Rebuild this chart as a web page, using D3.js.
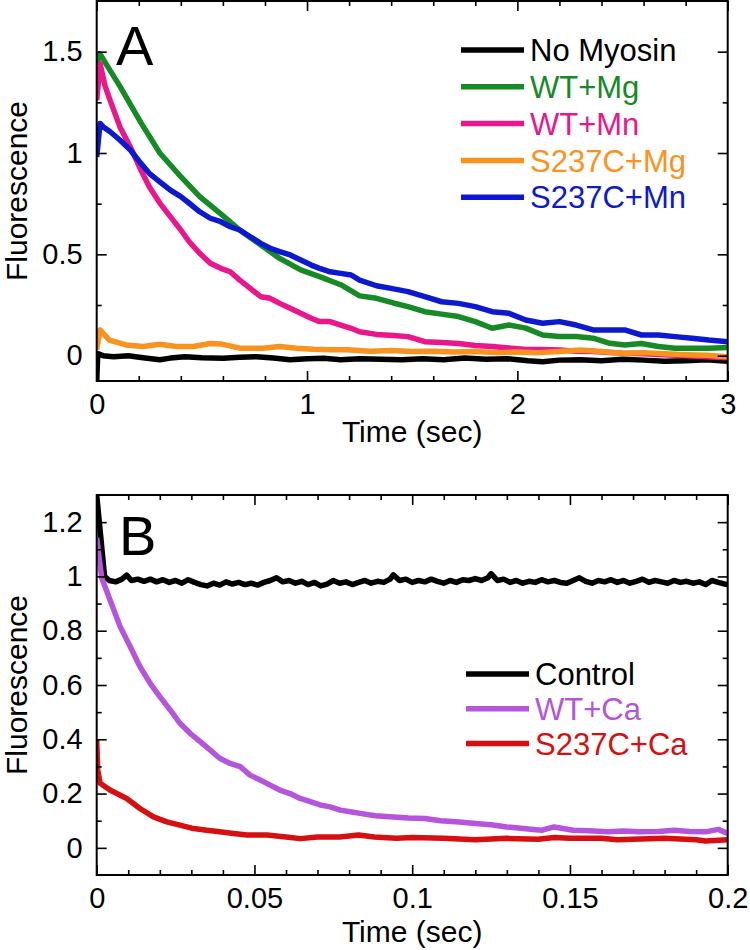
<!DOCTYPE html>
<html><head><meta charset="utf-8">
<script src="https://cdn.jsdelivr.net/npm/d3@7"></script>
<style>body{margin:0;background:#fff}svg{display:block}text{font-family:"Liberation Sans",Arial,sans-serif}</style>
</head><body>
<svg id="chart" width="750" height="950"></svg>
<script>
// ---------- Panel A data ----------
const xTicksA = [0, 1, 2, 3];
const yTicksA = [0, 0.5, 1, 1.5];
const legendA = ["No Myosin", "WT+Mg", "WT+Mn", "S237C+Mg", "S237C+Mn"];
const colorsA = ["#000000", "#168a25", "#ea168b", "#f7931e", "#0c19cf"];
const noMyosin = [[0,-0.125],[0.005,0.01],[0.03,0.0],[0.08,-0.005],[0.15,0.0],[0.22,-0.01],[0.3,-0.02],[0.35,-0.012],[0.42,-0.005],[0.5,-0.01],[0.6,-0.013],[0.68,-0.008],[0.76,-0.005],[0.84,-0.012],[0.92,-0.02],[1.0,-0.015],[1.08,-0.013],[1.16,-0.02],[1.25,-0.015],[1.35,-0.018],[1.45,-0.02],[1.55,-0.015],[1.65,-0.02],[1.75,-0.012],[1.85,-0.018],[1.95,-0.015],[2.05,-0.025],[2.12,-0.03],[2.2,-0.022],[2.3,-0.02],[2.4,-0.025],[2.5,-0.018],[2.6,-0.022],[2.7,-0.028],[2.8,-0.025],[2.9,-0.02],[3.0,-0.028]];
const wtMg = [[0,1.44],[0.015,1.49],[0.05,1.43],[0.11,1.33],[0.16,1.24],[0.21,1.15],[0.3,1.0],[0.4,0.883],[0.49,0.785],[0.59,0.70],[0.68,0.62],[0.78,0.546],[0.87,0.48],[0.97,0.423],[1.06,0.39],[1.16,0.35],[1.25,0.295],[1.33,0.283],[1.41,0.26],[1.48,0.242],[1.56,0.217],[1.64,0.205],[1.72,0.193],[1.80,0.168],[1.88,0.135],[1.96,0.151],[2.04,0.136],[2.12,0.102],[2.20,0.095],[2.28,0.095],[2.36,0.086],[2.44,0.061],[2.51,0.053],[2.59,0.06],[2.67,0.045],[2.75,0.037],[2.83,0.037],[2.91,0.037],[3.0,0.04]];
const wtMn = [[0,1.26],[0.016,1.44],[0.04,1.33],[0.064,1.26],[0.11,1.13],[0.16,1.03],[0.21,0.916],[0.25,0.834],[0.30,0.753],[0.35,0.686],[0.40,0.62],[0.44,0.562],[0.49,0.505],[0.54,0.456],[0.59,0.431],[0.635,0.414],[0.68,0.373],[0.73,0.332],[0.78,0.291],[0.825,0.283],[0.87,0.258],[0.92,0.234],[0.97,0.209],[1.02,0.185],[1.06,0.168],[1.11,0.168],[1.16,0.151],[1.21,0.135],[1.25,0.118],[1.33,0.105],[1.41,0.1],[1.48,0.094],[1.56,0.069],[1.64,0.065],[1.72,0.06],[1.80,0.05],[1.88,0.045],[1.96,0.038],[2.04,0.031],[2.12,0.03],[2.2,0.028],[2.28,0.022],[2.36,0.02],[2.5,0.012],[2.6,0.01],[2.7,0.005],[2.8,0.0],[2.9,-0.005],[3.0,-0.01]];
const s237cMg = [[0,0.03],[0.016,0.127],[0.06,0.077],[0.14,0.053],[0.22,0.045],[0.30,0.056],[0.38,0.045],[0.46,0.045],[0.54,0.06],[0.59,0.058],[0.68,0.037],[0.79,0.037],[0.87,0.045],[0.95,0.037],[1.03,0.032],[1.11,0.029],[1.19,0.029],[1.3,0.022],[1.4,0.025],[1.5,0.02],[1.6,0.022],[1.7,0.018],[1.8,0.02],[1.9,0.015],[2.0,0.018],[2.1,0.015],[2.2,0.02],[2.3,0.028],[2.4,0.02],[2.5,0.012],[2.6,0.015],[2.7,0.01],[2.8,0.005],[2.9,0.002],[3.0,-0.005]];
const s237cMn = [[0,0.98],[0.016,1.146],[0.03,1.13],[0.064,1.105],[0.11,1.064],[0.16,1.015],[0.21,0.949],[0.25,0.90],[0.30,0.858],[0.35,0.817],[0.40,0.785],[0.44,0.752],[0.49,0.71],[0.54,0.678],[0.59,0.661],[0.635,0.636],[0.68,0.62],[0.73,0.587],[0.78,0.554],[0.825,0.53],[0.87,0.513],[0.92,0.497],[0.97,0.472],[1.02,0.447],[1.06,0.431],[1.11,0.414],[1.16,0.406],[1.21,0.398],[1.25,0.373],[1.33,0.345],[1.40,0.332],[1.48,0.316],[1.56,0.291],[1.64,0.266],[1.72,0.258],[1.80,0.242],[1.88,0.217],[1.96,0.209],[2.04,0.176],[2.12,0.16],[2.2,0.168],[2.28,0.151],[2.36,0.127],[2.44,0.127],[2.51,0.127],[2.59,0.102],[2.67,0.102],[2.75,0.094],[2.83,0.086],[2.91,0.077],[3.0,0.069]];

// ---------- Panel B data ----------
const xTicksB = [0, 0.05, 0.1, 0.15, 0.2];
const yTicksB = [0, 0.2, 0.4, 0.6, 0.8, 1, 1.2];
const legendB = ["Control", "WT+Ca", "S237C+Ca"];
const colorsB = ["#000000", "#b455dc", "#d60f10"];
const control = [[0,1.3],[0.0025,1.0],[0.004,0.985],[0.006,0.98],[0.008,0.99],[0.0095,1.005],[0.011,0.985],[0.013,0.99],[0.015,0.982],[0.017,0.99],[0.019,0.98],[0.021,0.988],[0.023,0.978],[0.025,0.985],[0.027,0.975],[0.029,0.988],[0.031,0.978],[0.033,0.97],[0.035,0.965],[0.037,0.975],[0.039,0.968],[0.041,0.98],[0.043,0.972],[0.045,0.978],[0.047,0.97],[0.049,0.975],[0.051,0.968],[0.053,0.978],[0.055,0.985],[0.057,0.995],[0.059,0.98],[0.061,0.985],[0.063,0.975],[0.065,0.982],[0.067,0.97],[0.069,0.978],[0.071,0.965],[0.073,0.972],[0.075,0.985],[0.077,0.975],[0.079,0.98],[0.081,0.97],[0.083,0.978],[0.085,0.985],[0.087,0.975],[0.089,0.982],[0.091,0.978],[0.093,0.99],[0.094,1.006],[0.096,0.985],[0.098,0.99],[0.100,0.978],[0.102,0.985],[0.104,0.98],[0.106,0.99],[0.108,0.982],[0.110,0.975],[0.112,0.985],[0.114,0.978],[0.116,0.988],[0.118,0.985],[0.120,0.992],[0.122,0.985],[0.124,0.995],[0.125,1.01],[0.127,0.985],[0.129,0.99],[0.131,0.978],[0.133,0.985],[0.135,0.975],[0.137,0.982],[0.139,0.978],[0.141,0.988],[0.143,0.98],[0.145,0.985],[0.147,0.978],[0.149,0.975],[0.151,0.985],[0.153,0.995],[0.155,0.982],[0.157,0.975],[0.159,0.985],[0.161,0.98],[0.163,0.988],[0.165,0.978],[0.167,0.985],[0.169,0.975],[0.171,0.982],[0.173,0.99],[0.175,0.978],[0.177,0.985],[0.179,0.98],[0.181,0.975],[0.183,0.985],[0.185,0.978],[0.187,0.982],[0.189,0.975],[0.191,0.98],[0.193,0.97],[0.195,0.985],[0.197,0.978],[0.199,0.972],[0.2,0.97]];
const wtCa = [[0,1.142],[0.0016,0.994],[0.0042,0.914],[0.0074,0.816],[0.0106,0.742],[0.0137,0.668],[0.0169,0.607],[0.020,0.557],[0.0233,0.508],[0.0264,0.459],[0.0296,0.422],[0.0328,0.391],[0.036,0.36],[0.039,0.33],[0.0423,0.311],[0.0455,0.299],[0.0486,0.268],[0.0518,0.25],[0.055,0.231],[0.058,0.213],[0.0613,0.2],[0.0645,0.182],[0.0677,0.17],[0.0708,0.158],[0.074,0.151],[0.0772,0.139],[0.0804,0.133],[0.0835,0.127],[0.0883,0.118],[0.0988,0.11],[0.104,0.108],[0.109,0.1],[0.115,0.095],[0.12,0.09],[0.125,0.085],[0.13,0.077],[0.136,0.07],[0.141,0.065],[0.145,0.077],[0.151,0.065],[0.156,0.063],[0.162,0.059],[0.167,0.062],[0.172,0.059],[0.178,0.06],[0.183,0.065],[0.188,0.06],[0.193,0.059],[0.197,0.068],[0.2,0.053]];
const s237cCa = [[0,0.398],[0.0003,0.287],[0.0011,0.238],[0.0042,0.213],[0.0095,0.182],[0.0137,0.145],[0.018,0.114],[0.0222,0.096],[0.0264,0.084],[0.0307,0.071],[0.0349,0.065],[0.039,0.059],[0.0434,0.053],[0.0476,0.047],[0.054,0.047],[0.06,0.04],[0.0645,0.034],[0.07,0.04],[0.077,0.04],[0.083,0.047],[0.088,0.04],[0.095,0.035],[0.1,0.038],[0.11,0.035],[0.12,0.03],[0.13,0.035],[0.14,0.032],[0.145,0.038],[0.15,0.035],[0.16,0.035],[0.165,0.03],[0.17,0.032],[0.18,0.035],[0.19,0.03],[0.193,0.025],[0.2,0.03]];

const svg = d3.select("#chart");
const fmt = v => String(+v.toFixed(3));

function panel(o) {
  const x = d3.scaleLinear().domain(o.xDomain).range([o.left, o.right]);
  const y = d3.scaleLinear().domain(o.yDomain).range([o.bottom, o.top]);
  const g = svg.append("g");
  const clipId = "clip" + o.id;
  g.append("clipPath").attr("id", clipId).append("rect")
    .attr("x", o.left).attr("y", o.top).attr("width", o.right - o.left).attr("height", o.bottom - o.top);

  const line = d3.line().x(d => x(d[0])).y(d => y(d[1]));
  const lines = g.append("g").attr("clip-path", `url(#${clipId})`);
  o.series.forEach((s, i) => {
    lines.append("path").datum(s).attr("d", line)
      .attr("fill", "none").attr("stroke", o.colors[i]).attr("stroke-width", 5.5)
      .attr("stroke-linejoin", "round");
  });

  const styleAxis = (sel, labels) => {
    sel.select(".domain").remove();
    sel.selectAll(".tick line").attr("stroke", "#000").attr("stroke-width", 1.6);
    sel.selectAll(".tick text").attr("fill", "#000")
      .style("font-size", "29px").style("font-family", '"Liberation Sans",Arial,sans-serif');
    if (!labels) sel.selectAll(".tick text").remove();
  };
  const majX = o.xTicks, majY = o.yTicks;
  const minX = o.xMinor.filter(v => !majX.some(m => Math.abs(m - v) < 1e-9));
  const minY = o.yMinor.filter(v => !majY.some(m => Math.abs(m - v) < 1e-9));

  // bottom
  g.append("g").attr("transform", `translate(0,${o.bottom})`)
    .call(d3.axisBottom(x).tickValues(majX).tickSize(-10).tickPadding(12).tickFormat(fmt))
    .call(s => styleAxis(s, true));
  g.append("g").attr("transform", `translate(0,${o.bottom})`)
    .call(d3.axisBottom(x).tickValues(minX).tickSize(-5)).call(s => styleAxis(s, false));
  // top
  g.append("g").attr("transform", `translate(0,${o.top})`)
    .call(d3.axisTop(x).tickValues(majX).tickSize(-10)).call(s => styleAxis(s, false));
  g.append("g").attr("transform", `translate(0,${o.top})`)
    .call(d3.axisTop(x).tickValues(minX).tickSize(-5)).call(s => styleAxis(s, false));
  // left
  g.append("g").attr("transform", `translate(${o.left},0)`)
    .call(d3.axisLeft(y).tickValues(majY).tickSize(-10).tickPadding(14).tickFormat(fmt))
    .call(s => styleAxis(s, true));
  g.append("g").attr("transform", `translate(${o.left},0)`)
    .call(d3.axisLeft(y).tickValues(minY).tickSize(-5)).call(s => styleAxis(s, false));
  // right
  g.append("g").attr("transform", `translate(${o.right},0)`)
    .call(d3.axisRight(y).tickValues(majY).tickSize(-10)).call(s => styleAxis(s, false));
  g.append("g").attr("transform", `translate(${o.right},0)`)
    .call(d3.axisRight(y).tickValues(minY).tickSize(-5)).call(s => styleAxis(s, false));

  // frame
  g.append("rect").attr("x", o.left).attr("y", o.top)
    .attr("width", o.right - o.left).attr("height", o.bottom - o.top)
    .attr("fill", "none").attr("stroke", "#000").attr("stroke-width", 2);

  // axis labels
  g.append("text").attr("x", (o.left + o.right) / 2).attr("y", o.xLabelY)
    .attr("text-anchor", "middle").style("font-size", "30px").text("Time (sec)");
  g.append("text").attr("transform", `translate(27,${(o.top + o.bottom) / 2}) rotate(-90)`)
    .attr("text-anchor", "middle").style("font-size", "30px").text("Fluorescence");

  // panel letter
  g.append("text").attr("x", o.letterX).attr("y", o.letterY)
    .style("font-size", "56px").text(o.letter);

  // legend
  o.legend.forEach((name, i) => {
    const ly = o.legY + i * o.legStep;
    g.append("line").attr("x1", o.legX).attr("x2", o.legX + 63).attr("y1", ly).attr("y2", ly)
      .attr("stroke", o.colors[i]).attr("stroke-width", 5.5);
    g.append("text").attr("x", o.legX + 69).attr("y", ly).attr("dy", "0.36em")
      .attr("fill", o.colors[i]).style("font-size", "31px").text(name);
  });
}

panel({
  id: "A", left: 96.7, right: 727.7, top: 1, bottom: 381,
  xDomain: [0, 3], yDomain: [-0.125, 1.75],
  xTicks: xTicksA, yTicks: yTicksA,
  xMinor: d3.range(0, 3.0001, 0.2).map(v => +v.toFixed(2)),
  yMinor: [0.25, 0.75, 1.25],
  series: [noMyosin, wtMg, wtMn, s237cMg, s237cMn], colors: colorsA,
  legend: legendA, legX: 461, legY: 50, legStep: 36.8,
  xLabelY: 441.5, letter: "A", letterX: 116, letterY: 65
});

panel({
  id: "B", left: 96.7, right: 727.7, top: 495, bottom: 875,
  xDomain: [0, 0.2], yDomain: [-0.1, 1.3],
  xTicks: xTicksB, yTicks: yTicksB,
  xMinor: d3.range(0, 0.2001, 0.01).map(v => +v.toFixed(3)),
  yMinor: [0.1, 0.3, 0.5, 0.7, 0.9, 1.1],
  series: [control, wtCa, s237cCa], colors: colorsB,
  legend: legendB, legX: 466, legY: 674, legStep: 34.7,
  xLabelY: 942, letter: "B", letterX: 119, letterY: 555
});
</script>
</body></html>
